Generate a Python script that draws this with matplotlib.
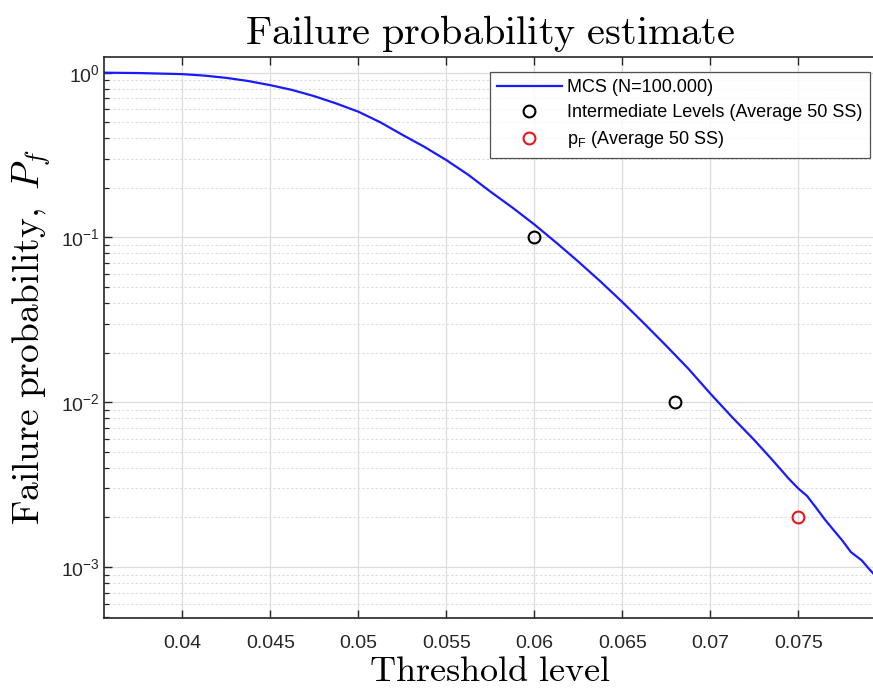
import numpy as np
import matplotlib
matplotlib.use('Agg')
import matplotlib.pyplot as plt
from matplotlib.ticker import FixedLocator, LogLocator, NullLocator, FuncFormatter

plt.rcParams['font.family'] = ['Liberation Sans', 'DejaVu Sans']
plt.rcParams['mathtext.fontset'] = 'cm'

# MCS reference curve
threshold = [0.0355, 0.0375, 0.040, 0.04125, 0.0425, 0.04375, 0.045, 0.04625,
             0.0475, 0.04875, 0.050, 0.05125, 0.0525, 0.05375, 0.055, 0.05625,
             0.0575, 0.05875, 0.060, 0.06125, 0.0625, 0.06375, 0.065, 0.06625,
             0.0675, 0.06875, 0.070, 0.07125, 0.0725, 0.0735, 0.0745, 0.0750,
             0.0755, 0.0760, 0.0765, 0.0769, 0.0775, 0.0780, 0.0786, 0.0790,
             0.0794]
pf_mcs = [1.0, 0.995, 0.98, 0.96, 0.93, 0.89, 0.84, 0.785,
          0.72, 0.65, 0.58, 0.50, 0.42, 0.355, 0.295, 0.24,
          0.19, 0.152, 0.12, 0.093, 0.0714, 0.0542, 0.0406, 0.030,
          0.022, 0.016, 0.0113, 0.0081, 0.0059, 0.0045, 0.0034, 0.0030,
          0.0027, 0.0023, 0.00195, 0.00173, 0.00145, 0.00123, 0.0011, 0.00098,
          0.00088]

# subset simulation results
ss_levels_x = [0.060, 0.068]
ss_levels_p = [0.1, 0.01]
pf_x = [0.075]
pf_p = [0.002]

xticks = [0.04, 0.045, 0.05, 0.055, 0.06, 0.065, 0.07, 0.075]

fig = plt.figure(figsize=(8.73, 6.91), dpi=100)
ax = fig.add_axes([104 / 873, 73 / 691, 772 / 873, 561 / 691])

ax.semilogy(threshold, pf_mcs, color='#1a1aff', lw=1.6, label='MCS (N=100.000)')
ax.plot(ss_levels_x, ss_levels_p, 'o', mfc='none', mec='black', ms=8.5, mew=1.5,
        label='Intermediate Levels (Average 50 SS)')
ax.plot(pf_x, pf_p, 'o', mfc='none', mec='#e8141e', ms=8.5, mew=1.5,
        label=r'$\mathregular{p_F}$ (Average 50 SS)')

ax.set_xlim(0.03555, 0.079415)
ax.set_ylim(4.91e-4, 1.245)

ax.xaxis.set_major_locator(FixedLocator(xticks))
ax.xaxis.set_minor_locator(NullLocator())
ax.xaxis.set_major_formatter(FuncFormatter(lambda v, p: '%g' % v))
ax.yaxis.set_major_locator(LogLocator(base=10, numticks=10))
ax.yaxis.set_minor_locator(LogLocator(base=10, subs=np.arange(2, 10), numticks=20))
ax.yaxis.set_major_formatter(FuncFormatter(
    lambda v, p: r'$\mathregular{10^{%d}}$' % int(round(np.log10(v)))))

ax.grid(True, which='major', color='#dcdcdc', lw=0.9, ls='-')
ax.grid(True, which='minor', axis='y', color='#dcdcdc', lw=0.8, ls=(0, (2, 2)))
ax.set_axisbelow(True)

ax.tick_params(which='both', direction='in', top=True, right=False,
               colors='#262626', labelsize=14)
ax.tick_params(which='major', length=6, width=1.0)
ax.tick_params(which='minor', length=3.5, width=0.9)
ax.tick_params(axis='x', pad=12)
ax.tick_params(axis='y', pad=3)
for side in ['left', 'bottom', 'top']:
    ax.spines[side].set_color('#262626')
    ax.spines[side].set_linewidth(1.2)
ax.spines['right'].set_visible(False)

ax.set_title(r'$\mathrm{Failure\ probability\ estimate}$', fontsize=29, pad=9)
ax.set_xlabel(r'$\mathrm{Threshold\ level}$', fontsize=26, labelpad=2)
ax.set_ylabel(r'$\mathrm{Failure\ probability,}\ P_f$', fontsize=27, labelpad=6)

leg = ax.legend(loc='upper right', bbox_to_anchor=(870 / 873, 1 - 72 / 691),
                bbox_transform=fig.transFigure, fontsize=13, frameon=True,
                fancybox=False, handlelength=3.6, borderpad=0.4,
                labelspacing=0.45, handletextpad=0.3, borderaxespad=0)
leg.get_frame().set_edgecolor('#262626')
leg.get_frame().set_linewidth(0.9)

fig.savefig('out.png', dpi=100)
